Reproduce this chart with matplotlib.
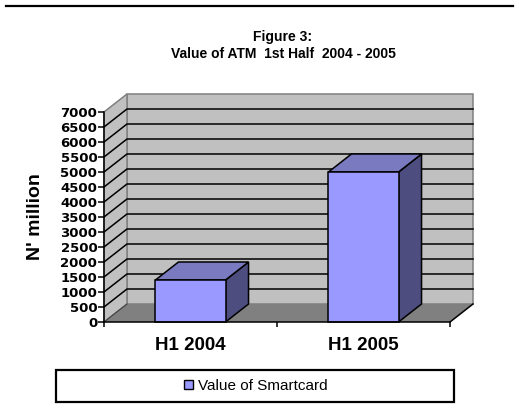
#!/usr/bin/env python3
"""Figure 3: Value of ATM 1st Half 2004 - 2005 (Excel-style 3D column chart)."""
import matplotlib
matplotlib.use("Agg")
import matplotlib.pyplot as plt
import matplotlib.patches as mpatches
from matplotlib.lines import Line2D

# ── data ────────────────────────────────────────────────────────────────────
categories = ["H1 2004", "H1 2005"]
values = [1400, 5000]
series_name = "Value of Smartcard"
y_ticks = list(range(0, 7001, 500))
y_max = 7000

# ── 3D look ─────────────────────────────────────────────────────────────────
DX = 0.133      # depth offset in category units
DV = 600        # depth offset in value units
BAR_W = 0.405
FRONT = "#9999FF"
TOP = "#7A7AC0"
SIDE = "#4D4D80"
WALL = "#C0C0C0"
FLOOR = "#808080"
EDGE = "#808080"
LW = 1.1

plt.rcParams["font.family"] = ["Liberation Sans", "DejaVu Sans"]

fig = plt.figure(figsize=(5.19, 4.15), dpi=100)
ax = fig.add_axes([104 / 519, 1 - 322 / 415, 369 / 519, 228 / 415])
n = len(categories)
ax.set_xlim(0, n + DX)
ax.set_ylim(0, y_max + DV)
ax.set_facecolor("none")


def poly(pts, fc, ec, z, lw=LW):
    ax.add_patch(mpatches.Polygon(pts, closed=True, facecolor=fc, edgecolor=ec,
                                  linewidth=lw, zorder=z, clip_on=False,
                                  joinstyle="miter"))


# walls and floor
poly([(DX, DV), (n + DX, DV), (n + DX, y_max + DV), (DX, y_max + DV)], WALL, EDGE, 1)
poly([(0, 0), (DX, DV), (DX, y_max + DV), (0, y_max)], WALL, EDGE, 1)
poly([(0, 0), (n, 0), (n + DX, DV), (DX, DV)], FLOOR, "none", 1)
ax.plot([n, n + DX], [0, DV], color="black", lw=LW, zorder=2, clip_on=False)
ax.plot([0, DX], [0, DV], color="#404040", lw=0.8, zorder=2, clip_on=False)

# gridlines (side wall diagonal + back wall horizontal)
for v in y_ticks[1:-1]:
    ax.plot([0, DX, n + DX], [v, v + DV, v + DV], color="black", lw=LW,
            zorder=2, clip_on=False)

# bars
for i, v in enumerate(values):
    x0 = i + 0.5 - BAR_W / 2
    x1 = i + 0.5 + BAR_W / 2
    poly([(x1, 0), (x1 + DX, DV), (x1 + DX, v + DV), (x1, v)], SIDE, "black", 3)
    poly([(x0, v), (x1, v), (x1 + DX, v + DV), (x0 + DX, v + DV)], TOP, "black", 3)
    poly([(x0, 0), (x1, 0), (x1, v), (x0, v)], FRONT, "black", 4)

# axes
for s in ("top", "right"):
    ax.spines[s].set_visible(False)
ax.spines["left"].set_bounds(0, y_max)
ax.spines["bottom"].set_bounds(0, n)
for s in ("left", "bottom"):
    ax.spines[s].set_linewidth(LW)
    ax.spines[s].set_zorder(5)

ax.set_yticks(y_ticks)
ax.set_yticklabels([str(t) for t in y_ticks], fontsize=9.5, fontweight="bold",
                   family="DejaVu Sans")
ax.tick_params(axis="y", length=4.3, width=LW, pad=0.5)

ax.set_xticks(range(n + 1))
ax.set_xticklabels([])
ax.set_xticks([i + 0.5 for i in range(n)], minor=True)
ax.set_xticklabels(categories, minor=True, fontsize=13.5, fontweight="bold")
ax.tick_params(axis="x", which="major", length=3.6, width=LW)
ax.tick_params(axis="x", which="minor", length=0, pad=10.5)

ax.set_ylabel("N' million", fontsize=14, fontweight="bold")
ax.yaxis.set_label_coords((44 - 104) / 369, (322 - 217) / 228)

# title and top rule
fig.text(283 / 519, 1 - 45.5 / 415, "Figure 3:\nValue of ATM  1st Half  2004 - 2005",
         ha="center", va="center", fontsize=10, fontweight="bold",
         family=["Liberation Sans Narrow", "Liberation Sans"])
fig.add_artist(Line2D([6 / 519, 513 / 519], [1 - 6.5 / 415] * 2, color="black",
                      lw=1.6, transform=fig.transFigure))

# legend (frame drawn as wide box like the original)
fig.add_artist(mpatches.Rectangle((56 / 519, 1 - 402 / 415), 398 / 519, 32 / 415,
                                  transform=fig.transFigure, facecolor="white",
                                  edgecolor="black", linewidth=1.6))
handle = mpatches.Patch(facecolor=FRONT, edgecolor="black", linewidth=1.0)
fig.legend([handle], [series_name], loc="center",
           bbox_to_anchor=(256 / 519, 1 - 386 / 415), frameon=False,
           fontsize=11, handlelength=0.6, handleheight=0.6, handletextpad=0.35)

fig.savefig("out.png", dpi=100)
